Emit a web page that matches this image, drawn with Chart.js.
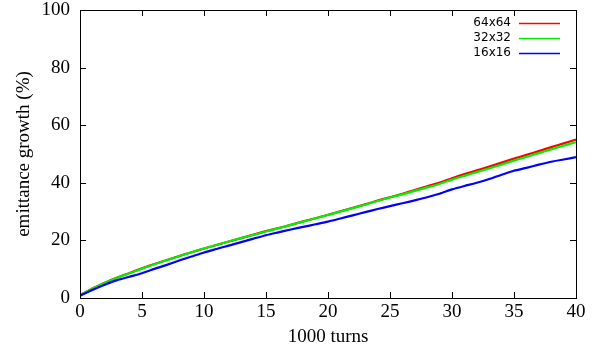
<!DOCTYPE html>
<html>
<head>
<meta charset="utf-8">
<script src="https://cdn.jsdelivr.net/npm/chart.js@4"></script>
<style>
  html, body { margin: 0; padding: 0; background: #fff; }
  #wrap { width: 614px; height: 355px; }
</style>
</head>
<body>
<div id="wrap"><canvas id="grafico" width="614" height="355"></canvas></div>
<script>
// turns in units of 1000
const turns = [0,1,2,3,4,5,6,7,8,9,10,11,12,13,14,15,16,17,18,19,20,
  21,22,23,24,25,26,27,28,29,30,31,32,33,34,35,36,37,38,39,40];

// emittance growth (%)
const grid64 = [1.0,3.3,5.3,7.1,8.7,10.3,11.8,13.2,14.6,15.9,17.2,18.4,19.6,20.8,22.0,23.2,24.3,25.4,26.6,27.7,28.9,
  30.1,31.3,32.5,33.8,35.0,36.2,37.5,38.8,40.1,41.6,43.0,44.3,45.6,47.0,48.4,49.7,51.0,52.4,53.7,55.0];
const grid32 = [1.0,3.2,5.2,7.0,8.6,10.2,11.7,13.1,14.5,15.9,17.2,18.4,19.6,20.8,21.9,23.1,24.2,25.4,26.5,27.7,28.8,
  30.0,31.2,32.4,33.7,34.9,36.0,37.2,38.4,39.6,41.1,42.4,43.7,45.0,46.3,47.7,49.0,50.3,51.6,52.9,54.1];
const grid16 = [0.8,2.8,4.6,6.2,7.4,8.6,10.1,11.5,13.0,14.4,15.8,17.0,18.2,19.4,20.6,21.8,22.8,23.8,24.7,25.6,26.5,
  27.6,28.7,29.8,30.9,31.9,32.9,33.9,35.0,36.2,37.7,38.9,40.0,41.3,42.8,44.2,45.2,46.3,47.3,48.1,48.9];

const seriesNames = ["64x64", "32x32", "16x16"];
const xTicks = [0,5,10,15,20,25,30,35,40];
const yTicks = [0,20,40,60,80,100];

const serif = "'Liberation Serif', 'DejaVu Serif', serif";

function pts(vals) {
  return vals.map((v, i) => ({ x: turns[i], y: v }));
}

// gnuplot-like frame with inward ticks on all four sides
const frame = {
  id: 'frame',
  afterDatasetsDraw(chart) {
    const { ctx, chartArea: a, scales } = chart;
    ctx.save();
    ctx.strokeStyle = '#000';
    ctx.lineWidth = 1;
    const tl = 6;
    ctx.beginPath();
    xTicks.forEach(v => {
      const px = Math.round(scales.x.getPixelForValue(v)) + 0.5;
      ctx.moveTo(px, a.bottom); ctx.lineTo(px, a.bottom - tl);
      ctx.moveTo(px, a.top); ctx.lineTo(px, a.top + tl);
    });
    yTicks.forEach(v => {
      const py = Math.round(scales.y.getPixelForValue(v)) + 0.5;
      ctx.moveTo(a.left, py); ctx.lineTo(a.left + tl, py);
      ctx.moveTo(a.right, py); ctx.lineTo(a.right - tl, py);
    });
    ctx.stroke();
    ctx.strokeRect(Math.round(a.left) + 0.5, Math.round(a.top) + 0.5,
      Math.round(a.right - a.left), Math.round(a.bottom - a.top));
    ctx.restore();
  }
};

// legend: text right-aligned, line sample to its right
const legendBox = {
  id: 'legendBox',
  afterDraw(chart) {
    const { ctx, chartArea: a } = chart;
    ctx.save();
    ctx.font = "12px 'DejaVu Sans', sans-serif";
    ctx.textAlign = 'right';
    ctx.textBaseline = 'middle';
    const byName = {};
    chart.data.datasets.forEach(d => byName[d.label] = d);
    seriesNames.forEach((name, i) => {
      const y = a.top + 13 + i * 15;
      ctx.fillStyle = '#000';
      ctx.fillText(name, a.right - 65, y);
      ctx.strokeStyle = byName[name].borderColor;
      ctx.lineWidth = 1.3;
      ctx.beginPath();
      ctx.moveTo(a.right - 57, y + 0.5);
      ctx.lineTo(a.right - 16, y + 0.5);
      ctx.stroke();
    });
    ctx.restore();
  }
};

new Chart(document.getElementById('grafico').getContext('2d'), {
  type: 'line',
  data: {
    datasets: [
      { label: seriesNames[0], data: pts(grid64), borderColor: '#ff0000', order: 2 },
      { label: seriesNames[1], data: pts(grid32), borderColor: '#00f000', order: 1 },
      { label: seriesNames[2], data: pts(grid16), borderColor: '#0000ff', order: 0 }
    ]
  },
  options: {
    responsive: false,
    animation: false,
    events: [],
    layout: { padding: { top: 0, right: 38, left: 0, bottom: 0 } },
    elements: {
      point: { radius: 0 },
      line: { borderWidth: 2.2, tension: 0.2, fill: false }
    },
    plugins: { legend: { display: false }, tooltip: { enabled: false } },
    scales: {
      x: {
        type: 'linear', min: 0, max: 40,
        afterBuildTicks: s => { s.ticks = xTicks.map(v => ({ value: v })); },
        afterFit: s => { s.height = 57; },
        grid: { display: false, drawTicks: false },
        border: { display: false },
        ticks: { color: '#000', font: { family: serif, size: 19 }, padding: 3, maxRotation: 0 },
        title: { display: true, text: '1000 turns', color: '#000', font: { family: serif, size: 19 }, padding: { top: 0, bottom: 7 } }
      },
      y: {
        min: 0, max: 100,
        afterBuildTicks: s => { s.ticks = yTicks.map(v => ({ value: v })); },
        afterFit: s => { s.width = 80; s.paddingTop = 10; s.paddingBottom = 0; },
        grid: { display: false, drawTicks: false },
        border: { display: false },
        ticks: { color: '#000', font: { family: serif, size: 19 }, padding: 10 },
        title: { display: true, text: 'emittance growth (%)', color: '#000', font: { family: serif, size: 19 }, padding: { top: 13, bottom: 0 } }
      }
    }
  },
  plugins: [frame, legendBox]
});
</script>
</body>
</html>
